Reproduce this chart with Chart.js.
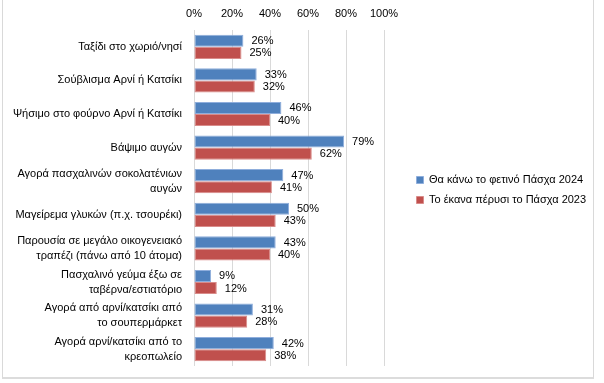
<!DOCTYPE html>
<html>
<head>
<meta charset="utf-8">
<script src="https://cdn.jsdelivr.net/npm/chart.js@4/dist/chart.umd.min.js"></script>
<style>
  html, body { margin: 0; padding: 0; background: #fff; }
  #wrap { position: relative; width: 604px; height: 383px; overflow: hidden; }
  #frame { position: absolute; left: 2px; top: -4px; width: 590px; height: 381px;
           border-left: 1px solid #d9d9d9; border-right: 1px solid #d9d9d9; border-bottom: 2px solid #dcdcdc; }
  canvas { position: absolute; left: 0; top: 0; }
</style>
</head>
<body>
<div id="wrap">
  <div id="frame"></div>
  <canvas id="c" width="604" height="383"></canvas>
</div>
<script>
const categories = [
  "Ταξίδι στο χωριό/νησί",
  "Σούβλισμα Αρνί ή Κατσίκι",
  "Ψήσιμο στο φούρνο Αρνί ή Κατσίκι",
  "Βάψιμο αυγών",
  ["Αγορά πασχαλινών σοκολατένιων", "αυγών"],
  "Μαγείρεμα γλυκών (π.χ. τσουρέκι)",
  ["Παρουσία σε μεγάλο οικογενειακό", "τραπέζι (πάνω από 10 άτομα)"],
  ["Πασχαλινό γεύμα έξω σε", "ταβέρνα/εστιατόριο"],
  ["Αγορά από αρνί/κατσίκι από", "το σουπερμάρκετ"],
  ["Αγορά αρνί/κατσίκι από το", "κρεοπωλείο"]
];
const seriesNames = ["Θα κάνω το φετινό Πάσχα 2024", "Το έκανα πέρυσι το Πάσχα 2023"];
const values2024 = [26, 33, 46, 79, 47, 50, 43, 9, 31, 42];
const values2023 = [25, 32, 40, 62, 41, 43, 40, 12, 28, 38];
const xTicks = [0, 20, 40, 60, 80, 100];

const FONT = "'Liberation Sans', Arial, sans-serif";
const FS = 11;

const valueLabels = {
  id: 'valueLabels',
  afterDatasetsDraw(chart) {
    const ctx = chart.ctx;
    ctx.save();
    ctx.font = FS + "px " + FONT;
    ctx.fillStyle = "#000";
    ctx.textAlign = "left";
    ctx.textBaseline = "middle";
    chart.data.datasets.forEach((ds, i) => {
      const meta = chart.getDatasetMeta(i);
      meta.data.forEach((el, j) => {
        ctx.fillText(ds.data[j] + "%", el.x + 8, el.y + 0.5);
      });
    });
    ctx.restore();
  }
};

const LEGEND_W = 220;
const legendFix = {
  id: 'legendFix',
  beforeLayout(chart) {
    const lg = chart.legend;
    if (lg && !lg._fixed) {
      const orig = lg.fit.bind(lg);
      lg.fit = function () { orig(); this.width = LEGEND_W; };
      lg._fixed = true;
    }
  },
  afterLayout(chart) {
    const lg = chart.legend;
    if (!lg) return;
    const lab = lg.options.labels;
    const textStart = lg.left + lab.padding + lab.boxWidth + FS / 2;
    const dx = 429 - textStart, dy = 3;
    lg.left += dx; lg.right += dx;
    lg.top += dy; lg.bottom += dy;
  }
};

new Chart(document.getElementById('c'), {
  type: 'bar',
  data: {
    labels: categories,
    datasets: [
      { label: seriesNames[0], data: values2024, backgroundColor: '#4F81BD', borderColor: '#8FAEDC', borderWidth: 1, borderSkipped: false },
      { label: seriesNames[1], data: values2023, backgroundColor: '#C0504D', borderColor: '#D98C8A', borderWidth: 1, borderSkipped: false }
    ]
  },
  options: {
    indexAxis: 'y',
    responsive: false,
    animation: false,
    devicePixelRatio: 1,
    layout: { padding: { top: 8, right: 0, bottom: 17, left: 0 } },
    datasets: { bar: { categoryPercentage: 0.72, barPercentage: 1.0 } },
    plugins: {
      legend: {
        position: 'right',
        align: 'center',
        labels: {
          boxWidth: 7, boxHeight: 7, padding: 9,
          color: '#000',
          font: { family: FONT, size: FS }
        }
      },
      tooltip: { enabled: false }
    },
    scales: {
      x: {
        position: 'top',
        min: 0, max: 100,
        afterBuildTicks(scale) { scale.ticks = xTicks.map(v => ({ value: v })); },
        afterFit(scale) { scale.height = 22; },
        ticks: {
          callback: v => v + '%',
          color: '#000',
          padding: 9,
          font: { family: FONT, size: FS }
        },
        grid: { color: '#d9d9d9', drawTicks: false, lineWidth: 1 },
        border: { display: false }
      },
      y: {
        afterFit(scale) { scale.width = 194; scale.paddingTop = 0; scale.paddingBottom = 0; },
        ticks: {
          autoSkip: false,
          color: '#000',
          padding: 12,
          font: { family: FONT, size: FS, lineHeight: 1.36 }
        },
        grid: { display: false, drawTicks: false },
        border: { display: false }
      }
    }
  },
  plugins: [valueLabels, legendFix]
});
</script>
</body>
</html>
